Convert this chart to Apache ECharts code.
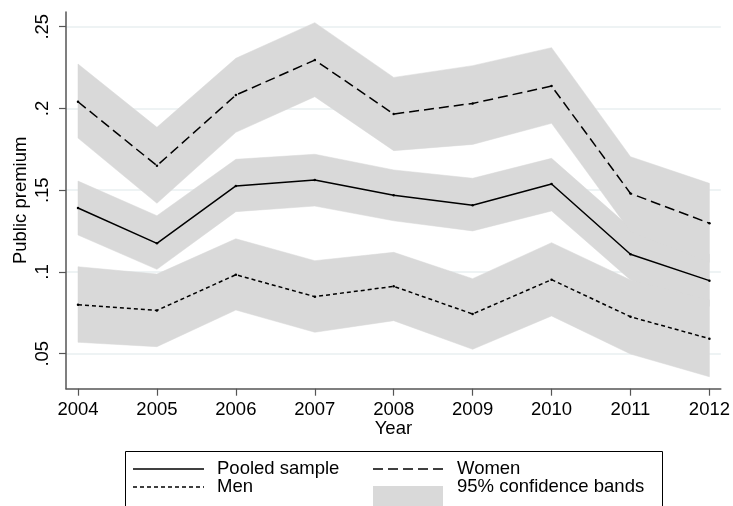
<!DOCTYPE html>
<html><head><meta charset="utf-8">
<script src="https://cdn.jsdelivr.net/npm/echarts@6/dist/echarts.min.js"></script>
<style>html,body{margin:0;padding:0;background:#fff}#c{width:733px;height:506px}</style>
</head><body><div id="c"></div>
<script>
const years = [2004, 2005, 2006, 2007, 2008, 2009, 2010, 2011, 2012];
const pooled   = [0.1391, 0.1175, 0.1526, 0.1562, 0.1469, 0.1408, 0.1538, 0.1108, 0.0947];
const pooledLo = [0.1226, 0.1016, 0.1369, 0.1403, 0.1313, 0.1251, 0.1373, 0.0951, 0.0790];
const pooledHi = [0.1556, 0.1344, 0.1689, 0.1720, 0.1624, 0.1573, 0.1695, 0.1270, 0.1110];
const women    = [0.2041, 0.1650, 0.2082, 0.2296, 0.1966, 0.2031, 0.2137, 0.1480, 0.1298];
const womenLo  = [0.1819, 0.1420, 0.1854, 0.2072, 0.1742, 0.1780, 0.1909, 0.1246, 0.1059];
const womenHi  = [0.2272, 0.1885, 0.2307, 0.2525, 0.2190, 0.2262, 0.2372, 0.1705, 0.1542];
const men      = [0.0800, 0.0765, 0.0983, 0.0849, 0.0912, 0.0743, 0.0953, 0.0726, 0.0592];
const menLo    = [0.0570, 0.0543, 0.0767, 0.0631, 0.0702, 0.0527, 0.0731, 0.0498, 0.0359];
const menHi    = [0.1032, 0.0987, 0.1203, 0.1069, 0.1120, 0.0959, 0.1179, 0.0951, 0.0829];
const yTicks = [0.05, 0.1, 0.15, 0.2, 0.25];
const yTickLabels = ['.05', '.1', '.15', '.2', '.25'];

const FONT = 'Liberation Sans, Arial, sans-serif';
const BAND = '#d9d9d9';
const AXIS = '#555555';

function bandSeries(lo, hi) {
  return {
    type: 'custom', name: '95% confidence bands', silent: true, z: 1, clip: true,
    data: years.map((y, i) => [y, lo[i], hi[i]]),
    encode: { x: 0, y: [1, 2] },
    renderItem(params, api) {
      if (params.dataIndex !== 0) return null;
      const pts = [];
      for (let i = 0; i < years.length; i++) pts.push(api.coord([years[i], hi[i]]));
      for (let i = years.length - 1; i >= 0; i--) pts.push(api.coord([years[i], lo[i]]));
      return { type: 'polygon', shape: { points: pts }, style: { fill: BAND, stroke: BAND, lineWidth: 0.5 } };
    }
  };
}
function lineSeries(name, vals, dash) {
  return {
    type: 'line', name, z: 5, silent: true,
    data: years.map((y, i) => [y, vals[i]]),
    symbol: 'circle', symbolSize: 2.5,
    itemStyle: { color: '#000' },
    lineStyle: { color: '#000', width: 1.5, type: dash },
    animation: false
  };
}

const chart = echarts.init(document.getElementById('c'), null, { renderer: 'canvas' });
const LX1 = 373, LX0 = 133, LW = 71;
chart.setOption({
  animation: false,
  backgroundColor: '#fff',
  grid: { left: 66, right: 10.3, top: 12, bottom: 117.3, containLabel: false },
  xAxis: {
    type: 'value', min: 2003.848, max: 2012.144,
    axisLine: { show: true, onZero: false, lineStyle: { color: AXIS, width: 1.5 } },
    axisTick: { show: true, length: 7, customValues: years, lineStyle: { color: AXIS, width: 1.2 } },
    axisLabel: { customValues: years, formatter: v => String(Math.round(v)), fontSize: 18.5, color: '#000', fontFamily: FONT, margin: 12 },
    splitLine: { show: false },
    name: 'Year', nameLocation: 'middle', nameGap: 31, nameMoveOverlap: false,
    nameTextStyle: { fontSize: 18.5, color: '#000', fontFamily: FONT }
  },
  yAxis: {
    type: 'value', min: 0.0286, max: 0.259,
    axisLine: { show: true, onZero: false, lineStyle: { color: AXIS, width: 1.5 } },
    axisTick: { show: true, length: 7, customValues: yTicks, lineStyle: { color: AXIS, width: 1.2 } },
    axisLabel: {
      customValues: yTicks, rotate: 90, margin: 14,
      formatter: v => { const i = yTicks.findIndex(t => Math.abs(t - v) < 1e-9); return i >= 0 ? yTickLabels[i] : ''; },
      fontSize: 18.5, color: '#000', fontFamily: FONT
    },
    splitLine: { show: true, lineStyle: { color: '#e8eff0', width: 1.5 } },
    name: 'Public premium', nameLocation: 'middle', nameGap: 36, nameMoveOverlap: false,
    nameTextStyle: { fontSize: 18.5, color: '#000', fontFamily: FONT }
  },
  series: [
    bandSeries(pooledLo, pooledHi),
    bandSeries(womenLo, womenHi),
    bandSeries(menLo, menHi),
    lineSeries('Pooled sample', pooled, 'solid'),
    lineSeries('Women', women, [10, 5]),
    lineSeries('Men', men, [4, 3])
  ],
  graphic: [
    { type: 'rect', shape: { x: 125.5, y: 451.5, width: 537, height: 80 }, style: { fill: '#fff', stroke: '#000', lineWidth: 1 }, z: 10 },
    { type: 'line', shape: { x1: LX0, y1: 469, x2: LX0 + LW, y2: 469 }, style: { stroke: '#000', lineWidth: 1.5 }, z: 11 },
    { type: 'text', x: 217, y: 469, style: { text: 'Pooled sample', fontSize: 18.5, fontFamily: FONT, fill: '#000', verticalAlign: 'middle' }, z: 11 },
    { type: 'line', shape: { x1: LX1, y1: 469, x2: LX1 + LW, y2: 469 }, style: { stroke: '#000', lineWidth: 1.5, lineDash: [10, 5] }, z: 11 },
    { type: 'text', x: 457, y: 469, style: { text: 'Women', fontSize: 18.5, fontFamily: FONT, fill: '#000', verticalAlign: 'middle' }, z: 11 },
    { type: 'line', shape: { x1: LX0, y1: 487, x2: LX0 + LW, y2: 487 }, style: { stroke: '#000', lineWidth: 1.5, lineDash: [4, 3] }, z: 11 },
    { type: 'text', x: 217, y: 487, style: { text: 'Men', fontSize: 18.5, fontFamily: FONT, fill: '#000', verticalAlign: 'middle' }, z: 11 },
    { type: 'rect', shape: { x: LX1, y: 486, width: 70, height: 30 }, style: { fill: BAND }, z: 11 },
    { type: 'text', x: 457, y: 487, style: { text: '95% confidence bands', fontSize: 18.5, fontFamily: FONT, fill: '#000', verticalAlign: 'middle' }, z: 11 }
  ]
});
</script></body></html>
